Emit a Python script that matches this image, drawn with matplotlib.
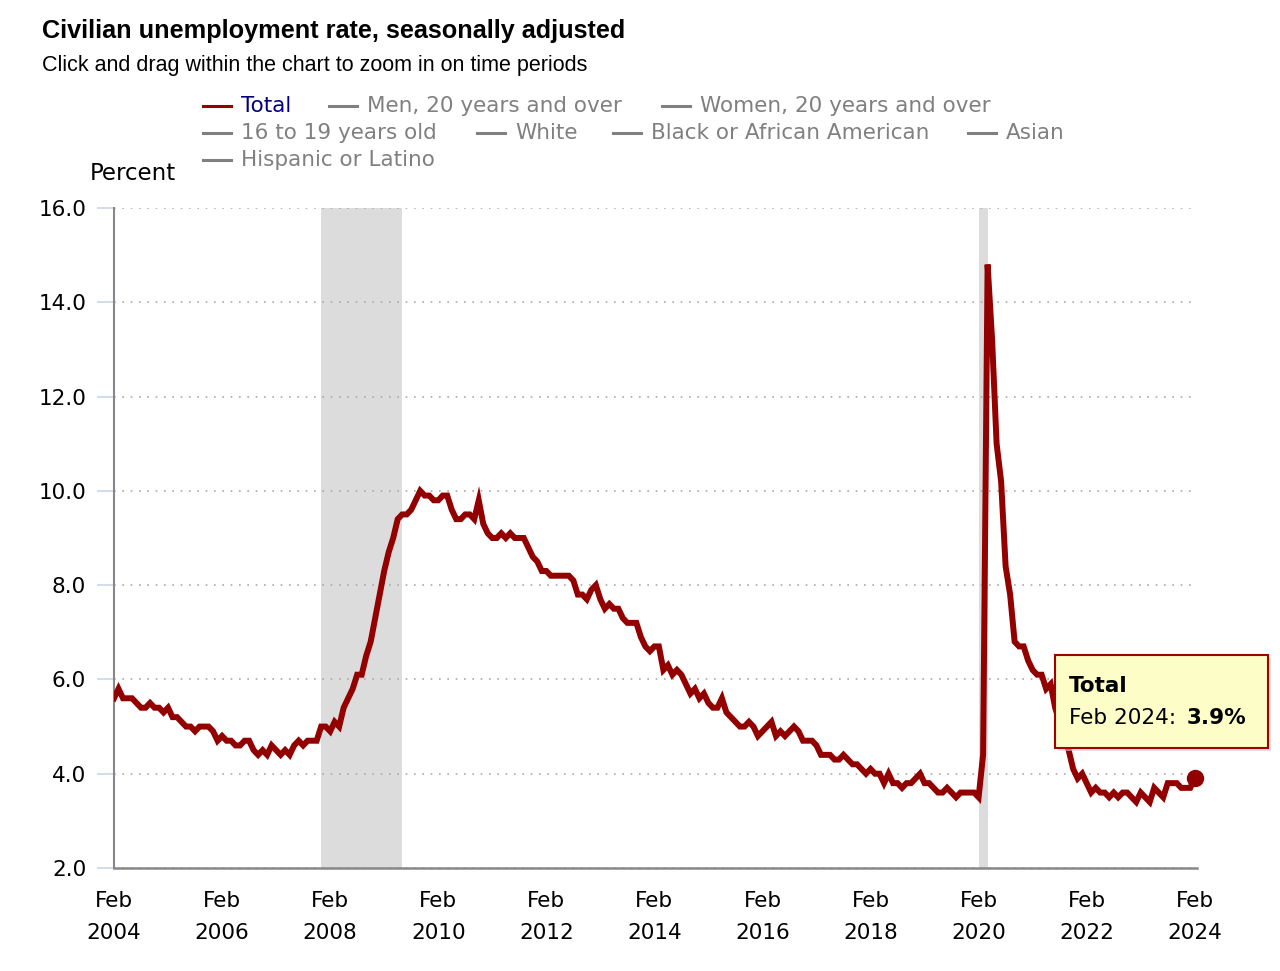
import matplotlib
matplotlib.use('Agg')
import matplotlib.pyplot as plt
from matplotlib.lines import Line2D
from matplotlib.patches import Rectangle

# monthly civilian unemployment rate (%), Feb 2004 .. Feb 2024
rate_2004 = [5.6, 5.8, 5.6, 5.6, 5.6, 5.5, 5.4, 5.4, 5.5, 5.4, 5.4]  # Feb-Dec
rate_2005 = [5.3, 5.4, 5.2, 5.2, 5.1, 5.0, 5.0, 4.9, 5.0, 5.0, 5.0, 4.9]
rate_2006 = [4.7, 4.8, 4.7, 4.7, 4.6, 4.6, 4.7, 4.7, 4.5, 4.4, 4.5, 4.4]
rate_2007 = [4.6, 4.5, 4.4, 4.5, 4.4, 4.6, 4.7, 4.6, 4.7, 4.7, 4.7, 5.0]
rate_2008 = [5.0, 4.9, 5.1, 5.0, 5.4, 5.6, 5.8, 6.1, 6.1, 6.5, 6.8, 7.3]
rate_2009 = [7.8, 8.3, 8.7, 9.0, 9.4, 9.5, 9.5, 9.6, 9.8, 10.0, 9.9, 9.9]
rate_2010 = [9.8, 9.8, 9.9, 9.9, 9.6, 9.4, 9.4, 9.5, 9.5, 9.4, 9.8, 9.3]
rate_2011 = [9.1, 9.0, 9.0, 9.1, 9.0, 9.1, 9.0, 9.0, 9.0, 8.8, 8.6, 8.5]
rate_2012 = [8.3, 8.3, 8.2, 8.2, 8.2, 8.2, 8.2, 8.1, 7.8, 7.8, 7.7, 7.9]
rate_2013 = [8.0, 7.7, 7.5, 7.6, 7.5, 7.5, 7.3, 7.2, 7.2, 7.2, 6.9, 6.7]
rate_2014 = [6.6, 6.7, 6.7, 6.2, 6.3, 6.1, 6.2, 6.1, 5.9, 5.7, 5.8, 5.6]
rate_2015 = [5.7, 5.5, 5.4, 5.4, 5.6, 5.3, 5.2, 5.1, 5.0, 5.0, 5.1, 5.0]
rate_2016 = [4.8, 4.9, 5.0, 5.1, 4.8, 4.9, 4.8, 4.9, 5.0, 4.9, 4.7, 4.7]
rate_2017 = [4.7, 4.6, 4.4, 4.4, 4.4, 4.3, 4.3, 4.4, 4.3, 4.2, 4.2, 4.1]
rate_2018 = [4.0, 4.1, 4.0, 4.0, 3.8, 4.0, 3.8, 3.8, 3.7, 3.8, 3.8, 3.9]
rate_2019 = [4.0, 3.8, 3.8, 3.7, 3.6, 3.6, 3.7, 3.6, 3.5, 3.6, 3.6, 3.6]
rate_2020 = [3.6, 3.5, 4.4, 14.8, 13.2, 11.0, 10.2, 8.4, 7.8, 6.8, 6.7, 6.7]
rate_2021 = [6.4, 6.2, 6.1, 6.1, 5.8, 5.9, 5.4, 5.1, 4.7, 4.5, 4.1, 3.9]
rate_2022 = [4.0, 3.8, 3.6, 3.7, 3.6, 3.6, 3.5, 3.6, 3.5, 3.6, 3.6, 3.5]
rate_2023 = [3.4, 3.6, 3.5, 3.4, 3.7, 3.6, 3.5, 3.8, 3.8, 3.8, 3.7, 3.7]
rate_2024 = [3.7, 3.9]  # Jan-Feb

rates = (rate_2004 + rate_2005 + rate_2006 + rate_2007 + rate_2008 + rate_2009
         + rate_2010 + rate_2011 + rate_2012 + rate_2013 + rate_2014 + rate_2015
         + rate_2016 + rate_2017 + rate_2018 + rate_2019 + rate_2020 + rate_2021
         + rate_2022 + rate_2023 + rate_2024)
months = list(range(len(rates)))  # 0 = Feb 2004

tick_years = [2004, 2006, 2008, 2010, 2012, 2014, 2016, 2018, 2020, 2022, 2024]
# recessions, months since Feb 2004
recessions = [(46, 64), (192, 194)]

legend_rows = [
    [('Total', 203), ('Men, 20 years and over', 329), ('Women, 20 years and over', 662)],
    [('16 to 19 years old', 203), ('White', 477), ('Black or African American', 613), ('Asian', 968)],
    [('Hispanic or Latino', 203)],
]

W, H = 1280, 971
RED = '#920000'
FS = 15.5


def fx(px):
    return px / W


def fy(py):
    return 1 - py / H


fig = plt.figure(figsize=(12.8, 9.71), dpi=100)
ax = fig.add_axes([fx(114), fy(868), fx(1197 - 114), (868 - 208) / H])

for a, b in recessions:
    ax.axvspan(a, b, color='#dcdcdc', lw=0, zorder=0)

ax.plot(months, rates, color=RED, lw=4.3, solid_joinstyle='miter', zorder=3)
ax.plot(months[-1], rates[-1], 'o', color=RED, ms=11.5, zorder=4, clip_on=False)

ax.set_xlim(0, 240.5)
ax.set_ylim(2, 16)
ax.set_yticks([2, 4, 6, 8, 10, 12, 14, 16])
ax.set_yticklabels(['%.1f' % v for v in [2, 4, 6, 8, 10, 12, 14, 16]])
ax.set_xticks([(y - 2004) * 12 for y in tick_years])
ax.set_xticklabels(['Feb\n%d' % y for y in tick_years], linespacing=1.78)

ax.grid(axis='y', linestyle=(0, (1, 4)), color='#aaaaaa', lw=1.2)
ax.grid(axis='x', visible=False)
ax.tick_params(axis='y', length=12, width=1.2, color='#c8d6ea', pad=8,
               labelsize=FS, labelcolor='black')
ax.tick_params(axis='x', length=0, pad=16.5, labelsize=FS)
for lab in ax.get_xticklabels() + ax.get_yticklabels():
    lab.set_family('DejaVu Sans')

for s in ['top', 'right']:
    ax.spines[s].set_visible(False)
ax.spines['left'].set_color('#888888')
ax.spines['bottom'].set_color('#888888')
ax.spines['left'].set_linewidth(1.5)
ax.spines['bottom'].set_linewidth(1.8)

# titles
fig.text(fx(42), fy(31), 'Civilian unemployment rate, seasonally adjusted',
         family='Liberation Sans', weight='bold', fontsize=18.2, va='center')
fig.text(fx(42), fy(66), 'Click and drag within the chart to zoom in on time periods',
         family='Liberation Sans', fontsize=15.5, va='center')
fig.text(fx(90), fy(173), 'Percent', family='DejaVu Sans', fontsize=16.5, va='center')

# legend
for r, row in enumerate(legend_rows):
    ly = 106 + 27 * r
    for label, x0 in row:
        col = RED if label == 'Total' else '#808080'
        tcol = '#000080' if label == 'Total' else '#808080'
        fig.add_artist(Line2D([fx(x0), fx(x0 + 28)], [fy(ly), fy(ly)],
                              color=col, lw=2.2))
        fig.text(fx(x0 + 38), fy(ly), label, color=tcol, family='DejaVu Sans',
                 fontsize=FS, va='center')

# tooltip
fig.add_artist(Rectangle((fx(1058), fy(751)), fx(213), (93) / H,
                         facecolor='#cccccc', edgecolor='none', alpha=0.6, zorder=5))
fig.add_artist(Rectangle((fx(1055), fy(748)), fx(213), (93) / H,
                         facecolor='#fdfdc8', edgecolor='#a30000', lw=1.5, zorder=6))
fig.text(fx(1069), fy(686), 'Total', weight='bold', family='DejaVu Sans',
         fontsize=FS, va='center', zorder=7)
fig.text(fx(1069), fy(718), 'Feb 2024:', family='DejaVu Sans',
         fontsize=FS, va='center', zorder=7)
fig.text(fx(1187), fy(718), '3.9%', weight='bold', family='DejaVu Sans',
         fontsize=FS, va='center', zorder=7)

fig.savefig('out.png', dpi=100)
